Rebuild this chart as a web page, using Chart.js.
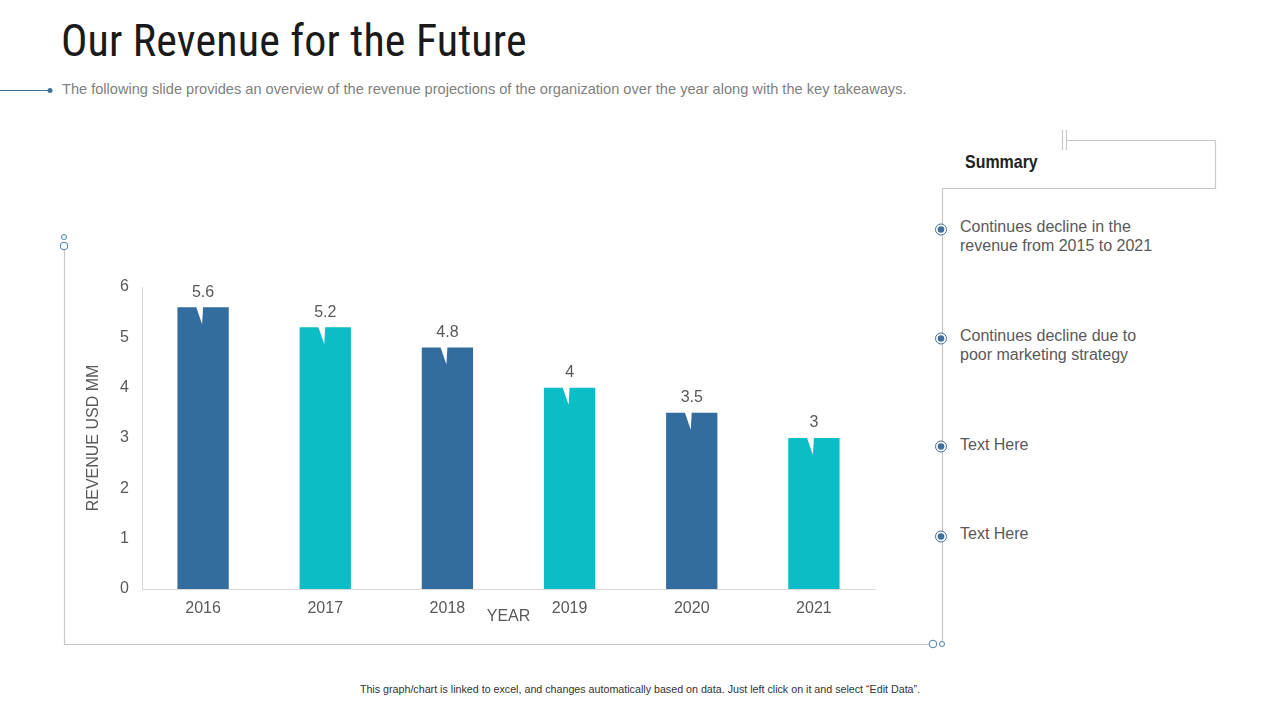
<!DOCTYPE html>
<html>
<head>
<meta charset="utf-8">
<script src="https://cdn.jsdelivr.net/npm/chart.js@4.4.1/dist/chart.umd.min.js"></script>
<style>
    body { margin: 0; width: 1280px; height: 720px; background: #fff; position: relative; overflow: hidden; font-family: "Liberation Sans", Arial, sans-serif; }
    .title { position: absolute; left: 61px; top: 15px; font-family: "Liberation Sans Narrow", "Roboto Condensed", "Liberation Sans", sans-serif; font-size: 44px; color: #1a1a1a; letter-spacing: 0.15px; }
    .subtitle { position: absolute; left: 62px; top: 81px; font-size: 14.6px; color: #7f7f7f; }
    .footer { position: absolute; left: 0; width: 1280px; top: 683px; text-align: center; font-size: 10.7px; color: #333; }
    .summary { position: absolute; left: 965px; top: 151px; font-weight: bold; font-size: 19px; color: #222; transform: scaleX(0.84); transform-origin: left center; }
    .point { position: absolute; left: 960px; font-size: 16px; line-height: 19px; color: #595959; }
    #deco { position: absolute; left: 0; top: 0; }
    #chartBox { position: absolute; left: 60px; top: 260px; width: 830px; height: 380px; }
</style>
</head>
<body>
<svg id="deco" width="1280" height="720">
    <line x1="0" y1="90.5" x2="50" y2="90.5" stroke="#3f6f9b" stroke-width="1"/>
    <circle cx="50" cy="90.5" r="2.5" fill="#3f6f9b"/>
    <!-- left frame -->
    <circle cx="64" cy="237" r="2.5" fill="none" stroke="#4a7fae" stroke-width="1"/>
    <circle cx="64" cy="246" r="3.8" fill="none" stroke="#4a7fae" stroke-width="1"/>
    <line x1="64.5" y1="250" x2="64.5" y2="644" stroke="#c8c8c8" stroke-width="1.2"/>
    <line x1="64" y1="644.5" x2="929" y2="644.5" stroke="#c8c8c8" stroke-width="1.2"/>
    <circle cx="933" cy="644" r="3.8" fill="none" stroke="#4a7fae" stroke-width="1"/>
    <circle cx="942" cy="644" r="2.5" fill="none" stroke="#4a7fae" stroke-width="1"/>
    <!-- right frame -->
    <line x1="942.5" y1="188" x2="942.5" y2="641" stroke="#c8c8c8" stroke-width="1.2"/>
    <line x1="942" y1="188.5" x2="1215.5" y2="188.5" stroke="#c8c8c8" stroke-width="1.2"/>
    <line x1="1215.5" y1="188.5" x2="1215.5" y2="140.5" stroke="#c8c8c8" stroke-width="1.2"/>
    <line x1="1215.5" y1="140.5" x2="1066" y2="140.5" stroke="#c8c8c8" stroke-width="1.2"/>
    <line x1="1062.5" y1="130" x2="1062.5" y2="150" stroke="#c8c8c8" stroke-width="1.2"/>
    <line x1="1066.5" y1="130" x2="1066.5" y2="150" stroke="#c8c8c8" stroke-width="1.2"/>
    <!-- bullets -->
    <g fill="#fff" stroke="#3f6f9b" stroke-width="1">
        <circle cx="941" cy="229.5" r="5.5"/>
        <circle cx="941" cy="338.5" r="5.5"/>
        <circle cx="941" cy="446.5" r="5.5"/>
        <circle cx="941" cy="536.5" r="5.5"/>
    </g>
    <g fill="#3f6f9b">
        <circle cx="941" cy="229.5" r="3.3"/>
        <circle cx="941" cy="338.5" r="3.3"/>
        <circle cx="941" cy="446.5" r="3.3"/>
        <circle cx="941" cy="536.5" r="3.3"/>
    </g>
</svg>

<div class="title">Our Revenue for the Future</div>
<div class="subtitle">The following slide provides an overview of the revenue projections of the organization over the year along with the key takeaways.</div>
<div class="summary">Summary</div>
<div class="point" style="top: 217px;">Continues decline in the<br>revenue from 2015 to 2021</div>
<div class="point" style="top: 326px;">Continues decline due to<br>poor marketing strategy</div>
<div class="point" style="top: 435px;">Text Here</div>
<div class="point" style="top: 524px;">Text Here</div>
<div class="footer">This graph/chart is linked to excel, and changes automatically based on data. Just left click on it and select “Edit Data”.</div>

<div id="chartBox"><canvas id="revenueChart"></canvas></div>

<script>
const years = ['2016', '2017', '2018', '2019', '2020', '2021'];
const revenue = [5.6, 5.2, 4.8, 4, 3.5, 3];
const barColors = ['#336c9e', '#0abdc6', '#336c9e', '#0abdc6', '#336c9e', '#0abdc6'];
const yTicks = [0, 1, 2, 3, 4, 5, 6];

const textGray = '#595959';
const chartFont = '"Liberation Sans", Arial, sans-serif';

// value labels with the little white callout notch in the bar top
const calloutLabels = {
    id: 'calloutLabels',
    afterDatasetsDraw(chart) {
        const ctx = chart.ctx;
        const meta = chart.getDatasetMeta(0);
        ctx.save();
        meta.data.forEach((bar, i) => {
            const x = bar.x;
            const y = bar.y;
            ctx.fillStyle = '#ffffff';
            ctx.beginPath();
            ctx.moveTo(x - 7, y - 0.5);
            ctx.lineTo(x, y - 0.5);
            ctx.lineTo(x - 1, y + 17);
            ctx.closePath();
            ctx.fill();

            ctx.fillStyle = textGray;
            ctx.font = '16px ' + chartFont;
            ctx.textAlign = 'center';
            ctx.textBaseline = 'middle';
            ctx.fillText(revenue[i], x, y - 15);
        });
        ctx.restore();
    }
};

const ctx = document.getElementById('revenueChart').getContext('2d');
new Chart(ctx, {
    type: 'bar',
    data: {
        labels: years,
        datasets: [{
            data: revenue,
            backgroundColor: barColors,
            categoryPercentage: 1,
            barPercentage: 0.42
        }]
    },
    options: {
        responsive: true,
        maintainAspectRatio: false,
        animation: false,
        layout: { padding: { left: 24, right: 15, top: 27, bottom: 0 } },
        plugins: {
            legend: { display: false },
            tooltip: { enabled: false }
        },
        scales: {
            x: {
                grid: { display: false, drawTicks: false },
                border: { display: true, color: '#d9d9d9', width: 1 },
                ticks: { color: textGray, font: { size: 16, family: chartFont }, padding: 10 },
                title: {
                    display: true,
                    text: 'YEAR',
                    color: textGray,
                    font: { size: 16, family: chartFont },
                    padding: { top: 0, bottom: 14 }
                },
                afterFit: (scale) => { scale.height = 51; }
            },
            y: {
                min: 0,
                max: 6,
                afterBuildTicks: (scale) => { scale.ticks = yTicks.map(v => ({ value: v })); },
                grid: { display: false, drawTicks: false },
                border: { display: true, color: '#d9d9d9', width: 1 },
                ticks: { color: textGray, font: { size: 16, family: chartFont }, padding: 13 },
                title: {
                    display: true,
                    text: 'REVENUE USD MM',
                    color: textGray,
                    font: { size: 16, family: chartFont },
                    padding: 0
                },
                afterFit: (scale) => { scale.width = 58; }
            }
        }
    },
    plugins: [calloutLabels]
});
</script>
</body>
</html>
